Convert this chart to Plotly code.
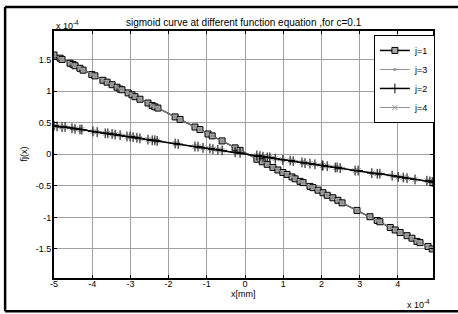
import plotly.graph_objects as go

# ---- data (units of 1e-4) ----
x_upper = [-5.0, -4.84, -4.79, -4.58, -4.50, -4.45, -4.32, -4.24, -4.01, -3.93, -3.72, -3.61, -3.48,
           -3.35, -3.27, -3.22, -3.06, -2.96, -2.88, -2.75, -2.54, -2.43, -2.36, -2.28, -1.83, -1.70,
           -1.31, -1.18, -0.97, -0.86, -0.60, -0.26, -0.13, 0.31, 0.45, 0.58, 0.73, 0.86, 0.99, 1.10,
           1.23, 1.31, 1.44, 1.52, 1.70, 1.78, 1.91, 2.04, 2.15, 2.30, 2.43, 2.54, 2.93, 3.27, 3.46,
           3.53, 3.80, 3.93, 4.06, 4.24, 4.37, 4.50, 4.58, 4.79, 4.90]
y_j1 = [1.57, 1.52, 1.50, 1.44, 1.42, 1.40, 1.36, 1.33, 1.26, 1.24, 1.17, 1.14, 1.10,
        1.06, 1.03, 1.02, 0.97, 0.94, 0.91, 0.87, 0.81, 0.77, 0.75, 0.73, 0.59, 0.55,
        0.43, 0.39, 0.32, 0.29, 0.21, 0.10, 0.06, -0.08, -0.12, -0.16, -0.21, -0.25, -0.29, -0.32,
        -0.36, -0.39, -0.43, -0.45, -0.51, -0.53, -0.57, -0.61, -0.65, -0.69, -0.73, -0.77, -0.89, -0.99, -1.05,
        -1.07, -1.16, -1.20, -1.24, -1.29, -1.33, -1.38, -1.40, -1.46, -1.50]
y_j3 = list(y_j1)

x_lower = [-5.0, -4.92, -4.79, -4.71, -4.53, -4.45, -4.32, -4.27, -3.98, -3.87, -3.66, -3.59, -3.48,
           -3.40, -3.27, -3.09, -3.01, -2.93, -2.83, -2.75, -2.54, -2.43, -2.36, -2.30, -1.83, -1.75,
           -1.31, -1.23, -1.10, -0.92, -0.84, -0.71, -0.60, -0.26, -0.13, 0.31, 0.39, 0.47, 0.58, 0.65,
           0.79, 0.99, 1.18, 1.26, 1.49, 1.57, 1.70, 1.83, 2.02, 2.04, 2.15, 2.36, 2.41, 2.49, 2.88,
           2.96, 3.32, 3.46, 3.53, 3.85, 4.01, 4.14, 4.24, 4.45, 4.76, 4.84, 4.90]
y_j2 = [0.45, 0.44, 0.43, 0.43, 0.41, 0.40, 0.39, 0.39, 0.36, 0.35, 0.33, 0.33, 0.32,
        0.31, 0.30, 0.28, 0.28, 0.27, 0.26, 0.25, 0.23, 0.22, 0.22, 0.21, 0.17, 0.16,
        0.12, 0.12, 0.10, 0.09, 0.08, 0.07, 0.06, 0.03, 0.02, -0.02, -0.03, -0.04, -0.05, -0.05,
        -0.07, -0.09, -0.10, -0.11, -0.13, -0.14, -0.15, -0.16, -0.18, -0.18, -0.19, -0.21, -0.21, -0.22, -0.26,
        -0.26, -0.30, -0.31, -0.31, -0.34, -0.36, -0.37, -0.38, -0.40, -0.42, -0.43, -0.44]
y_j4 = list(y_j2)

x_ticks = [-5, -4, -3, -2, -1, 0, 1, 2, 3, 4]
x_tick_labels = ["-5", "-4", "-3", "-2", "-1", "0", "1", "2", "3", "4"]
y_ticks = [-1.5, -1, -0.5, 0, 0.5, 1, 1.5]
y_tick_labels = ["-1.5", "-1", "-0.5", "0", "0.5", "1", "1.5"]
scale = 1e-4

FONT = "Liberation Sans, Arial, sans-serif"

def sc(v):
    return [a * scale for a in v]

fig = go.Figure()
fig.add_trace(go.Scatter(x=sc(x_lower), y=sc(y_j4), name="j=4", mode="lines+markers", legendrank=4,
                         line=dict(color="#909090", width=1),
                         marker=dict(symbol="x-thin", size=5, line=dict(color="#909090", width=1))))
fig.add_trace(go.Scatter(x=sc(x_upper), y=sc(y_j1), name="j=1", mode="lines+markers", legendrank=1,
                         line=dict(color="black", width=1.5),
                         marker=dict(symbol="square", size=6, color="#a8a8a8",
                                     line=dict(color="black", width=1))))
fig.add_trace(go.Scatter(x=sc(x_upper), y=sc(y_j3), name="j=3", mode="lines+markers", legendrank=2,
                         line=dict(color="#909090", width=1),
                         marker=dict(symbol="circle", size=3, color="#909090")))
fig.add_trace(go.Scatter(x=sc(x_lower), y=sc(y_j2), name="j=2", mode="lines+markers", legendrank=3,
                         line=dict(color="black", width=1.5),
                         marker=dict(symbol="cross-thin", size=7, line=dict(color="black", width=1))))

axis_common = dict(showline=True, linecolor="black", linewidth=2, mirror="ticks",
                   ticks="inside", ticklen=3, tickcolor="black", tickwidth=1,
                   showgrid=True, gridcolor="#a0a0a0", gridwidth=1, zeroline=False,
                   tickfont=dict(family=FONT, size=9, color="black"))

fig.update_xaxes(range=[-5e-4, 4.92e-4], tickvals=sc(x_ticks), ticktext=x_tick_labels,
                 ticklabelstandoff=-4, **axis_common)
fig.update_yaxes(range=[-1.96e-4, 1.95e-4], tickvals=sc(y_ticks), ticktext=y_tick_labels,
                 ticklabelstandoff=-1, **axis_common)

fig.update_layout(
    width=458, height=314,
    margin=dict(l=54, r=25, t=31, b=36, pad=0),
    paper_bgcolor="white", plot_bgcolor="white",
    showlegend=True,
    legend=dict(x=0.844, y=0.984, xanchor="left", yanchor="top",
                bgcolor="white", bordercolor="black", borderwidth=1,
                font=dict(family=FONT, size=9, color="black"),
                itemwidth=30, tracegroupgap=0),
    font=dict(family=FONT, size=9, color="black"),
    annotations=[
        dict(text="sigmoid curve at different function equation ,for c=0.1", xref="paper", yref="paper",
             x=0.5, y=1.0, yshift=9, xanchor="center", yanchor="middle", showarrow=False,
             font=dict(family=FONT, size=10, color="black")),
        dict(text="x 10<sup>-4</sup>", xref="paper", yref="paper", x=0.0, y=1.0, yshift=-2,
             xanchor="left", yanchor="bottom", showarrow=False, font=dict(family=FONT, size=9)),
        dict(text="x 10<sup>-4</sup>", xref="paper", yref="paper", x=0.925, y=0.0, yshift=-26,
             xanchor="left", yanchor="middle", showarrow=False, font=dict(family=FONT, size=9)),
        dict(text="x[mm]", xref="paper", yref="paper", x=0.5, y=0.0, yshift=-15.5,
             xanchor="center", yanchor="middle", showarrow=False, font=dict(family=FONT, size=9)),
        dict(text="fj(x)", xref="paper", yref="paper", x=0.0, y=0.5, xshift=-31,
             xanchor="center", yanchor="middle", textangle=-90, showarrow=False,
             font=dict(family=FONT, size=9)),
    ],
    shapes=[
        dict(type="line", xref="paper", yref="paper", x0=-0.129, x1=1.08, y0=1.097, y1=1.097,
             line=dict(color="black", width=2.5)),
        dict(type="line", xref="paper", yref="paper", x0=-0.129, x1=-0.129, y0=1.097, y1=-0.135,
             line=dict(color="black", width=2.5)),
        dict(type="line", xref="paper", yref="paper", x0=-0.129, x1=1.08, y0=-0.135, y1=-0.135,
             line=dict(color="black", width=2.5)),
    ],
)

fig.write_html("out.html", config={"displayModeBar": False},
               post_script="document.body.style.margin='0';document.body.style.overflow='hidden';")
